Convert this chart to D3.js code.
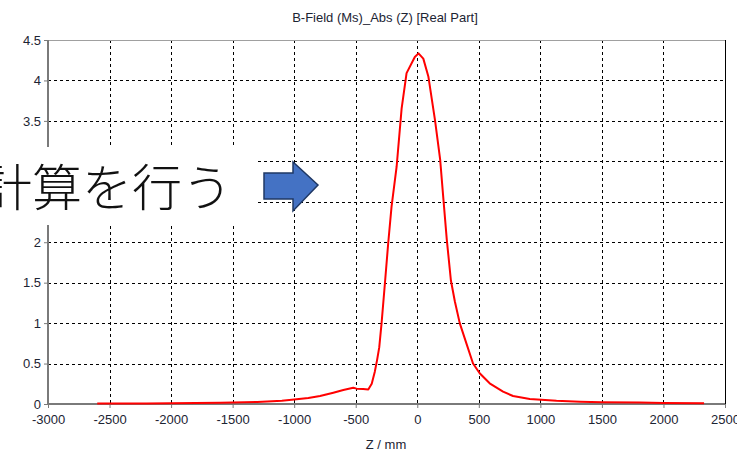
<!DOCTYPE html>
<html>
<head>
<meta charset="utf-8">
<script src="https://cdn.jsdelivr.net/npm/d3@7"></script>
<style>
  html, body { margin: 0; padding: 0; background: #fff; }
  svg { display: block; }
</style>
</head>
<body>
<svg id="chart" width="737" height="454"></svg>
<script>
// Field profile along Z (mm) and |B| magnitude
const zValues = [-2600, -2200, -1800, -1600, -1300, -1100, -1000, -885, -790, -682,
  -601, -520, -493, -440, -398, -370, -345, -327, -309, -290, -263, -236, -209,
  -168, -127, -87, -20, 10, 49, 90, 144, 186, 213, 240, 273, 305, 345, 399, 453,
  507, 588, 697, 778, 914, 1131, 1322, 1500, 1809, 2000, 2330];
const bValues = [0.005, 0.006, 0.012, 0.015, 0.025, 0.04, 0.055, 0.075, 0.099, 0.14,
  0.173, 0.20, 0.19, 0.185, 0.18, 0.25, 0.40, 0.54, 0.70, 1.0, 1.49, 1.99, 2.44,
  2.93, 3.655, 4.09, 4.29, 4.335, 4.27, 4.05, 3.51, 3.02, 2.52, 2.03, 1.53, 1.27,
  1.0, 0.75, 0.50, 0.38, 0.256, 0.152, 0.099, 0.062, 0.041, 0.029, 0.022, 0.018,
  0.012, 0.01];

const xTicks = [-3000, -2500, -2000, -1500, -1000, -500, 0, 500, 1000, 1500, 2000, 2500];
const yTicks = [0, 0.5, 1, 1.5, 2, 2.5, 3, 3.5, 4, 4.5];

const titleText = "B-Field (Ms)_Abs (Z) [Real Part]";
const xLabel = "Z / mm";
const noteText = "計算を行う";

const plot = { left: 48, right: 725, top: 40, bottom: 404 };
const svg = d3.select("#chart");

const x = d3.scaleLinear().domain([-3000, 2500]).range([plot.left, plot.right]);
const y = d3.scaleLinear().domain([0, 4.5]).range([plot.bottom, plot.top]);

const labelFont = "'Liberation Sans', Arial, sans-serif";

// dashed grid
const grid = svg.append("g").attr("stroke", "#000").attr("stroke-width", 1)
  .attr("stroke-dasharray", "3,3").attr("shape-rendering", "crispEdges");
grid.selectAll("line.v").data(xTicks.filter(t => t > -3000 && t < 2500)).join("line")
  .attr("x1", d => Math.round(x(d)) + 0.5).attr("x2", d => Math.round(x(d)) + 0.5)
  .attr("y1", plot.top).attr("y2", plot.bottom);
grid.selectAll("line.h").data(yTicks.filter(t => t > 0 && t < 4.5)).join("line")
  .attr("y1", d => Math.round(y(d)) + 0.5).attr("y2", d => Math.round(y(d)) + 0.5)
  .attr("x1", plot.left).attr("x2", plot.right);

// frame: grey top, black right
const frame = svg.append("g").attr("shape-rendering", "crispEdges");
frame.append("line").attr("x1", plot.left).attr("x2", plot.right)
  .attr("y1", plot.top + 0.5).attr("y2", plot.top + 0.5).attr("stroke", "#a0a0a0").attr("stroke-width", 1);
frame.append("line").attr("x1", plot.right + 0.5).attr("x2", plot.right + 0.5)
  .attr("y1", plot.top).attr("y2", plot.bottom).attr("stroke", "#000").attr("stroke-width", 1);

// axes
const xAxis = d3.axisBottom(x).tickValues(xTicks).tickSize(4).tickPadding(7).tickFormat(d => String(d));
const yAxis = d3.axisLeft(y).tickValues(yTicks).tickSize(4).tickPadding(3).tickFormat(d => String(d));

const gx = svg.append("g").attr("transform", `translate(0,${plot.bottom})`).call(xAxis);
const gy = svg.append("g").attr("transform", `translate(${plot.left},0)`).call(yAxis);
[gx, gy].forEach(g => {
  g.select(".domain").attr("stroke", "#7a7a7a").attr("stroke-width", 2);
  g.selectAll(".tick line").attr("stroke", "#7a7a7a");
  g.selectAll(".tick text").attr("fill", "#1c2433").attr("font-family", labelFont).attr("font-size", 13);
});
gx.select(".domain").attr("d", `M${plot.left},0H${plot.right}`);
gy.select(".domain").attr("d", `M0,${plot.bottom}V${plot.top}`);

// curve
const pts = zValues.map((z, i) => [z, bValues[i]]);
svg.append("path").datum(pts)
  .attr("fill", "none").attr("stroke", "#ff0000").attr("stroke-width", 2)
  .attr("stroke-linejoin", "round")
  .attr("d", d3.line().x(d => x(d[0])).y(d => y(d[1])));

// titles
svg.append("text").attr("x", 385).attr("y", 22).attr("text-anchor", "middle")
  .attr("font-family", labelFont).attr("font-size", 13).attr("fill", "#1c2433").text(titleText);
svg.append("text").attr("x", 386).attr("y", 449).attr("text-anchor", "middle")
  .attr("font-family", labelFont).attr("font-size", 13).attr("fill", "#1c2433").text(xLabel);

// callout: white panel with caption and arrow
svg.append("rect").attr("x", 0).attr("y", 147).attr("width", 258).attr("height", 78).attr("fill", "#fff");
svg.append("text").attr("x", -18).attr("y", 184).attr("dominant-baseline", "central")
  .attr("font-family", "'Noto Sans CJK JP', sans-serif").attr("font-weight", 300)
  .attr("font-size", 50).attr("letter-spacing", 0).attr("fill", "#111").text(noteText);

const arrow = [[264, 173], [293, 173], [293, 162], [318, 185], [293, 211], [293, 199], [264, 199]];
svg.append("path").attr("d", d3.line()(arrow) + "Z")
  .attr("fill", "#4472c4").attr("stroke", "#1f3864").attr("stroke-width", 1.5)
  .attr("stroke-linejoin", "miter");
</script>
</body>
</html>
